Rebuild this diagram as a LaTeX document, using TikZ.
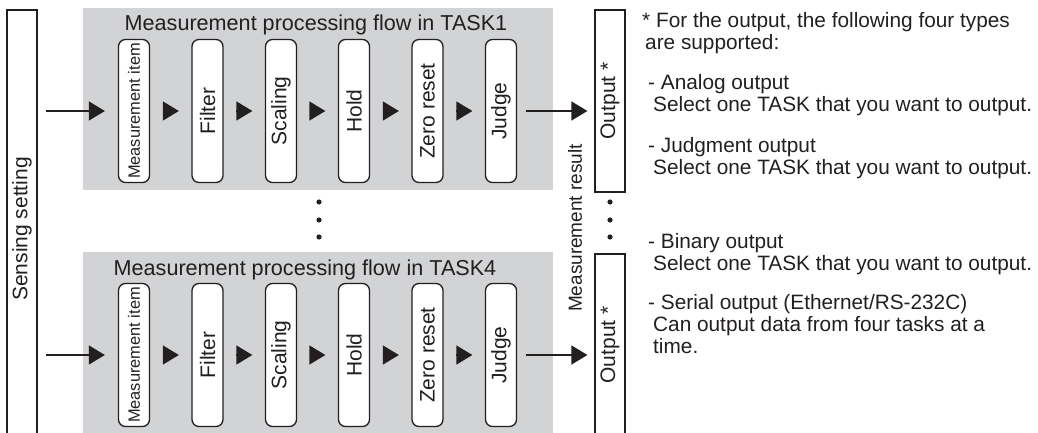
\documentclass[tikz,border=0pt]{standalone}
\usepackage{fontspec}
\setmainfont{Liberation Sans}
\usetikzlibrary{arrows.meta}
\definecolor{panelgray}{HTML}{D1D3D4}
\definecolor{ink}{HTML}{231F20}

\tikzset{
  panel/.style={fill=panelgray, minimum width=470pt, minimum height=182pt, inner sep=0pt},
  stage/.style={draw=ink, line width=1.3pt, fill=white, rounded corners=7pt, rotate=90,
    minimum width=143pt, minimum height=31pt, inner sep=1pt, text=ink, font=\fontsize{21}{21}\selectfont},
  sidebox/.style={draw=ink, line width=1.2pt, minimum width=30pt, inner sep=0pt, text=ink,
    font=\fontsize{21}{21}\selectfont},
  flow/.style={draw=ink, line width=1.3pt, -{Triangle[length=16pt,width=19pt]}},
  note/.style={anchor=base west, align=left, inner sep=0pt, text=ink, font=\fontsize{20.8}{22}\selectfont}
}

\begin{document}
\begin{tikzpicture}[x=1pt, y=-1pt]
  \useasboundingbox (0,0) rectangle (1038,433);
  \clip (0,0) rectangle (1038,433);

  \node[sidebox, minimum height=460pt] (sense) at (22,240) {};
  \node[rotate=90, text=ink, font=\fontsize{21}{21}\selectfont] (sensetxt) at (22,229) {Sensing setting};

  \foreach \row/\t/\tx in {111/1/316, 355/4/305} {
    \node[panel] (panel\t) at (318,\row-12) {};
    \node[anchor=base, text=ink, font=\fontsize{21.6}{21.6}\selectfont] (title\t) at (\tx,\row-80) {Measurement processing flow in TASK\t};

    \node[stage, inner sep=0.5pt, font=\fontsize{16.4}{16.4}\selectfont] (m\t) at (134,\row) {Measurement item};
    \node[stage] (f\t) at (207.5,\row) {Filter};
    \node[stage] (sc\t) at (281,\row) {Scaling};
    \node[stage] (h\t) at (354,\row) {Hold};
    \node[stage] (z\t) at (427.5,\row) {Zero reset};
    \node[stage] (j\t) at (501,\row) {Judge};

    \node[sidebox, minimum height=182pt] (out\t) at (610,\row-10) {\rotatebox{90}{Output *}};

    \draw[flow, shorten <=8pt, shorten >=13pt] (sense.east |- m\t) -- (m\t);
    \foreach \a/\b in {m/f, f/sc, sc/h, h/z, z/j}
      \draw[flow, shorten <=12.5pt, shorten >=12.5pt] (\a\t) -- (\b\t);
    \draw[flow, shorten <=9pt, shorten >=7pt] (j\t) -- (j\t -| out\t.west);
  }

  \node[rotate=90, text=ink, font=\fontsize{19}{19}\selectfont] (result) at (575,228) {Measurement result};

  % more tasks in between
  \foreach \d in {202,220,237} {
    \fill[ink] (319,\d) circle (2.6pt);
    \fill[ink] (610,\d) circle (2.6pt);
  }

  % notes: placed at the baseline of their last line
  \node[note] (note0) at (642,50) {* For the output, the following four types\\\hspace*{3pt}are supported:};
  \node[note] (note1) at (648,112) {- Analog output\\\hspace*{5pt}Select one TASK that you want to output.};
  \node[note] (note2) at (648,174) {- Judgment output\\\hspace*{5pt}Select one TASK that you want to output.};
  \node[note] (note3) at (648,270) {- Binary output\\\hspace*{5pt}Select one TASK that you want to output.};
  \node[note] (note4) at (648,353) {- Serial output (Ethernet/RS-232C)\\\hspace*{5pt}Can output data from four tasks at a\\\hspace*{5pt}time.};
\end{tikzpicture}
\end{document}
